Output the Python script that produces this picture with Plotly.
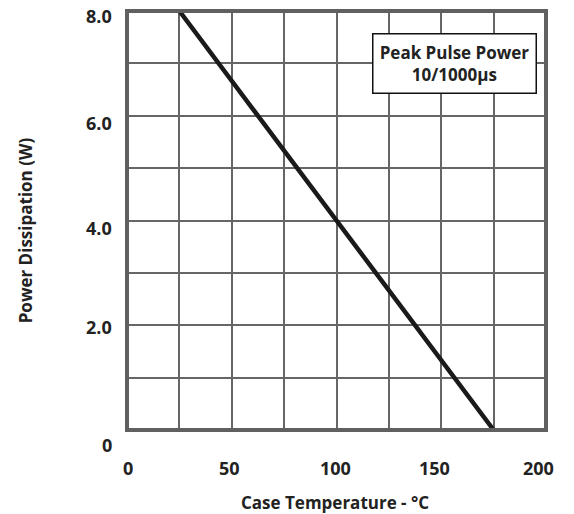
import plotly.graph_objects as go

# Data
case_temp = [25, 175]
power_w = [8.0, 0.0]

x_tick_vals = [0, 50, 100, 150, 200]
x_tick_text = ["0", "50", "100", "150", "200"]
y_tick_vals = [0, 2, 4, 6, 8]
y_tick_text = ["0", "2.0", "4.0", "6.0", "8.0"]

x_title = "Case Temperature - °C"
y_title = "Power Dissipation (W)"
box_text = "Peak Pulse Power<br>10/1000µs"

FONT = "Open Sans"
TXT = "#222222"
GRID = "#666666"

fig = go.Figure()
fig.add_trace(go.Scatter(
    x=case_temp, y=power_w, mode="lines",
    line=dict(color="#1a1a1a", width=4.5),
    showlegend=False, hoverinfo="skip",
))

# pixel nudges of the tick labels, as drawn in the reference
x_shift = [1, -2, -1, -7, -8]
y_shift = [-15, -2, -7, -7, -5]

annotations = []
for v, t, s in zip(x_tick_vals, x_tick_text, x_shift):
    annotations.append(dict(
        x=v, xref="x", y=0, yref="paper", text=t, showarrow=False,
        xanchor="center", yanchor="middle", yshift=-38, xshift=s,
        font=dict(family=FONT, size=18, color=TXT, weight="bold"),
    ))
for v, t, s in zip(y_tick_vals, y_tick_text, y_shift):
    annotations.append(dict(
        x=0, xref="paper", y=v, yref="y", text=t, showarrow=False,
        xanchor="right", yanchor="middle", xshift=-13, yshift=s,
        font=dict(family=FONT, size=18, color=TXT, weight="bold"),
    ))
annotations.append(dict(
    x=0.496, xref="paper", y=-0.172, yref="paper", text=x_title,
    showarrow=False, xanchor="center", yanchor="middle",
    font=dict(family=FONT, size=17, color=TXT, weight="bold"),
))
annotations.append(dict(
    x=-0.243, xref="paper", y=0.477, yref="paper", text=y_title,
    showarrow=False, xanchor="center", yanchor="middle", textangle=-90,
    font=dict(family=FONT, size=17, color=TXT, weight="bold"),
))
annotations.append(dict(
    x=(454 - 127) / 419, xref="paper", y=(430 - 63) / 419, yref="paper",
    text=box_text, showarrow=False, xanchor="center", yanchor="middle",
    font=dict(family=FONT, size=17, color=TXT, weight="bold"),
    bgcolor="white", bordercolor="#111111", borderwidth=1.5,
    borderpad=5, width=152, height=48,
))

fig.update_layout(
    width=574, height=514,
    margin=dict(l=127, r=28, t=11, b=84),
    paper_bgcolor="white", plot_bgcolor="white",
    annotations=annotations,
    shapes=[dict(type="rect", xref="paper", yref="paper", x0=0, x1=1, y0=0, y1=1,
                 line=dict(color="#606060", width=4), layer="above")],
    xaxis=dict(range=[0, 200], tickmode="linear", tick0=0, dtick=25,
               showgrid=True, gridcolor=GRID, gridwidth=2,
               showticklabels=False, zeroline=False, showline=False, ticks=""),
    yaxis=dict(range=[0, 8], tickmode="linear", tick0=0, dtick=1,
               showgrid=True, gridcolor=GRID, gridwidth=2,
               showticklabels=False, zeroline=False, showline=False, ticks=""),
)

fig.write_html("out.html", config={"displayModeBar": False},
               post_script="document.body.style.margin='0';")
